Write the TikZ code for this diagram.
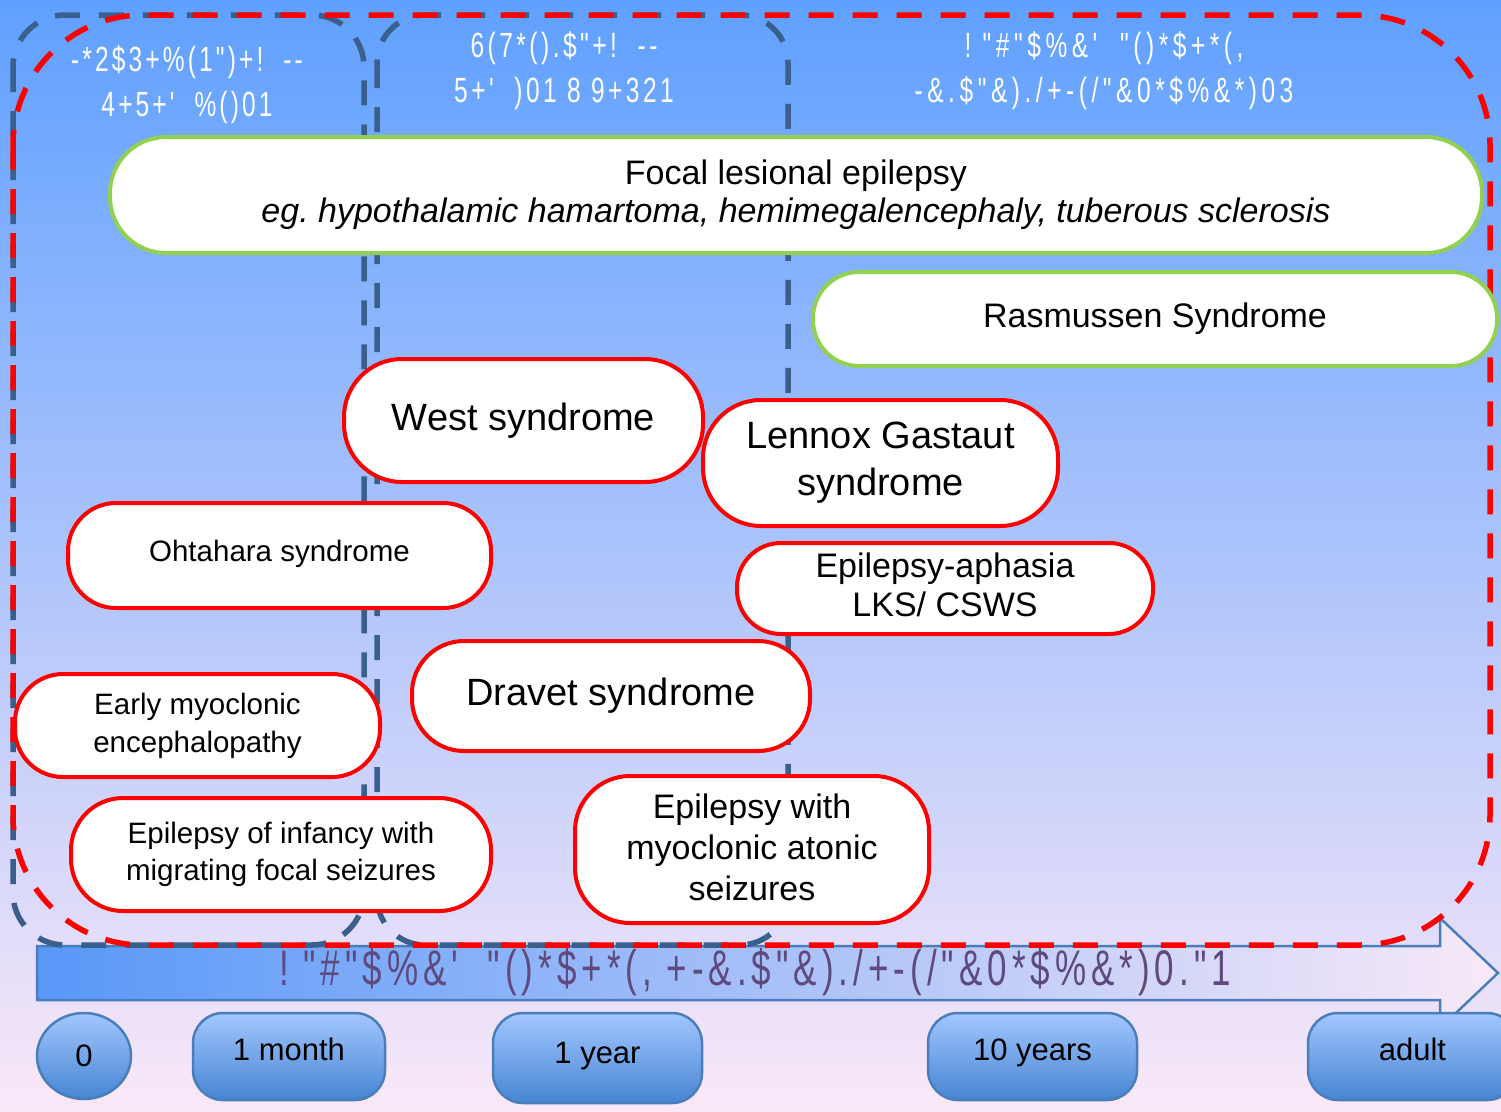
\documentclass[tikz,border=0pt]{standalone}
\usepackage{fontspec}
\setmainfont{Liberation Sans}
\newfontfamily\codefont[FakeStretch=0.7,Ligatures=TeXOff]{Liberation Sans}
\usetikzlibrary{shapes.geometric}
\frenchspacing

\definecolor{bgtop}{HTML}{5FA0FF}
\definecolor{bgmid}{HTML}{9EC8F4}
\definecolor{bgbot}{HTML}{FAE8F8}
\definecolor{dashblue}{HTML}{3B5F8C}
\definecolor{lesion}{HTML}{92D050}
\definecolor{axisblue}{HTML}{4A7EBB}
\definecolor{axisleft}{HTML}{5898F8}
\definecolor{axismid}{HTML}{A2C9F2}
\definecolor{axisright}{HTML}{F8E9F8}
\definecolor{axistext}{HTML}{5E4A7E}
\definecolor{tltop}{HTML}{A3C6FF}
\definecolor{tlbot}{HTML}{4685D2}

\newcommand\setfs[2]{\fontsize{#1}{#2}\selectfont}
\newcommand\spaced[1]{\addfontfeatures{LetterSpace=#1}}

\tikzset{
  sized/.style n args={3}{minimum width=#1pt, minimum height=#2pt, rounded corners=#3pt},
  colbox/.style={draw=dashblue, line width=5.5pt, dash pattern=on 25pt off 19pt},
  agebox/.style={draw=red, line width=5.5pt, dash pattern=on 25pt off 19pt},
  syndrome/.style={rectangle, fill=white, line width=4pt, align=center, inner sep=0pt, text=black},
  redsyn/.style={syndrome, draw=red},
  greensyn/.style={syndrome, draw=lesion},
  header/.style={text=white, align=center, inner sep=0pt, font=\codefont\setfs{35}{45}},
  tick/.style={draw=axisblue, line width=2.5pt, top color=tltop, bottom color=tlbot,
    inner sep=0pt, text=black, font=\setfs{31}{36}},
}

\begin{document}
\begin{tikzpicture}[x=1pt, y=-1pt]
\useasboundingbox (0,0) rectangle (1501,1111);

% background
\shade[top color=bgtop, middle color=bgmid, bottom color=bgbot] (0,0) rectangle (1501,1111);

% age axis arrow
\path[draw=axisblue, line width=2.5pt, left color=axisleft, middle color=axismid, right color=axisright]
  (37,946) -- (1440,946) -- (1440,918) -- (1498,973) -- (1440,1028) -- (1440,1000) -- (37,1000) -- cycle;
\node[text=axistext, inner sep=0pt, font=\codefont\setfs{50}{56}\spaced{10}] (axislabel) at (755,972)
  {!\ "\#"\$\%\&'\ \ "()*\$+*(,\ +-\&.\$"\&)./+-(/"\&0*\$\%\&*)0."1};

% age columns
\draw[colbox, rounded corners=52pt] (13,15) rectangle (364,945);
\draw[colbox, rounded corners=48pt] (377,15) rectangle (788,945);

% overall age range
\draw[agebox, rounded corners=130pt] (13,15) rectangle (1490,945);

% column headings
\node[header, font=\codefont\setfs{35}{45}\spaced{9}] (h1) at (187,85) {-*2\$3+\%(1")+!\ \ --\\4+5+'\ \ \%()01};
\node[header, font=\codefont\setfs{35}{45}\spaced{10}] (h2) at (564,71) {6(7*().\$"+!\ \ --\\5+'\ \ )01 8 9+321};
\node[header, font=\codefont\setfs{35}{45}\spaced{13}] (h3) at (1104,71) {!\ "\#"\$\%\&'\ \ "()*\$+*(,\\-\&.\$"\&)./+-(/"\&0*\$\%\&*)03};

% syndromes
\node[greensyn, sized={1372}{116}{56}, font=\setfs{34}{38}] (focal) at (796,195)
  {Focal lesional epilepsy\\\textit{eg. hypothalamic hamartoma, hemimegalencephaly, tuberous sclerosis}};
\node[greensyn, sized={684}{94}{46}, font=\setfs{34}{38}] (rasmussen) at (1155,319) {Rasmussen Syndrome};
\node[redsyn, sized={359}{123}{58}, font=\setfs{38}{46}] (west) at (523.5,420.5) {West syndrome};
\node[redsyn, sized={355}{126}{58}, font=\setfs{38}{47}] (lennox) at (880.5,463) {Lennox Gastaut\\syndrome};
\node[redsyn, sized={423}{105}{48}, font=\setfs{29.5}{36}, text depth=10pt] (ohtahara) at (279.5,555.5) {Ohtahara syndrome};
\node[redsyn, sized={416}{91}{44}, font=\setfs{34}{39}] (aphasia) at (945,588.5) {Epilepsy-aphasia\\LKS/ CSWS\vspace{8pt}};
\node[redsyn, sized={398}{110}{52}, font=\setfs{38}{46}] (dravet) at (611,696) {Dravet syndrome};
\node[redsyn, sized={365}{103}{48}, font=\setfs{29.5}{38}] (early) at (197.5,725.5) {Early myoclonic\\encephalopathy};
\node[redsyn, sized={420}{113}{52}, font=\setfs{29.5}{37}] (infancy) at (281,854.5) {Epilepsy of infancy with\\migrating focal seizures};
\node[redsyn, sized={354}{147}{55}, font=\setfs{34}{41}] (myoatonic) at (752,849.5) {Epilepsy with\\myoclonic atonic\\seizures\vspace{4pt}};

% age marks
\node[tick, ellipse, minimum width=94pt, minimum height=86pt] (age0) at (84,1056) {0};
\node[tick, rectangle, sized={192}{87}{30}, text depth=14pt] (age1m) at (289,1056.5) {1 month};
\node[tick, rectangle, sized={209}{90}{30}, text depth=10pt] (age1y) at (597.5,1058) {1 year};
\node[tick, rectangle, sized={209}{87}{30}, text depth=14pt] (age10y) at (1032.5,1056.5) {10 years};
\node[tick, rectangle, sized={209}{87}{30}, text depth=14pt] (adult) at (1412.5,1056.5) {adult};
\end{tikzpicture}
\end{document}
